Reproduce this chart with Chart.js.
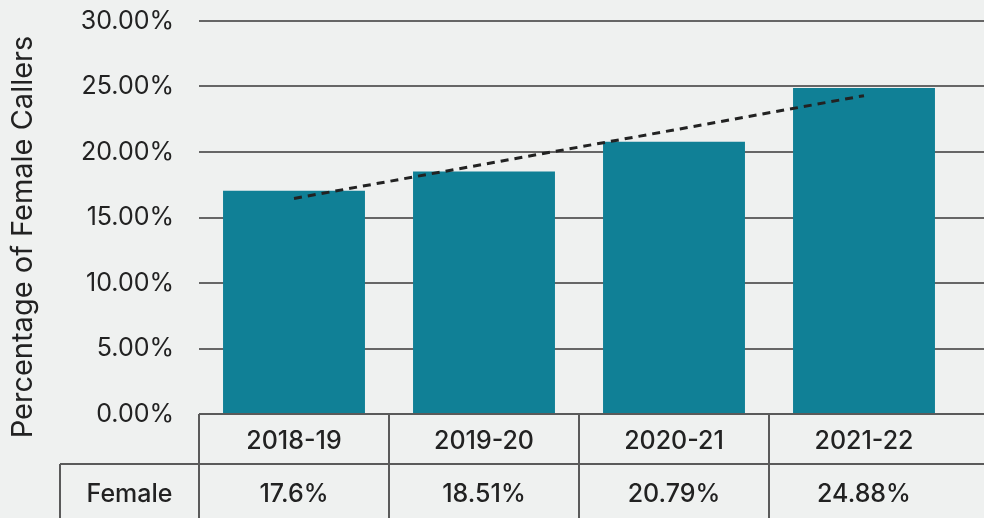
<!DOCTYPE html>
<html>
<head>
<meta charset="utf-8">
<script src="https://cdn.jsdelivr.net/npm/chart.js@4.4.1/dist/chart.umd.min.js"></script>
<style>
  html, body { margin: 0; padding: 0; background: #eff1f0; overflow: hidden; }
  #wrap { width: 984px; height: 518px; position: relative; }
</style>
</head>
<body>
<div id="wrap"><canvas id="chart" width="984" height="518"></canvas></div>
<script>
// data
const years = ['2018-19', '2019-20', '2020-21', '2021-22'];
const femaleShare = [17.05, 18.51, 20.79, 24.88];
const femaleLabels = ['17.6%', '18.51%', '20.79%', '24.88%'];
const trendEnds = [16.45, null, null, 24.3];
const rowLabel = 'Female';
const yTitle = 'Percentage of Female Callers';

const FONT = 'Inter, "Open Sans", sans-serif';
const TEXT = '#222222';
const LINE = '#5a5a5a';

// extends the gridlines to the right edge and draws the data table under the axis
const tablePlugin = {
  id: 'dataTable',
  beforeDatasetsDraw(chart) {
    const { ctx, chartArea, scales } = chart;
    ctx.save();
    ctx.strokeStyle = '#666666';
    ctx.lineWidth = 2;
    scales.y.ticks.forEach(t => {
      const y = Math.round(scales.y.getPixelForValue(t.value));
      ctx.beginPath();
      ctx.moveTo(chartArea.right, y);
      ctx.lineTo(chart.width, y);
      ctx.stroke();
    });
    ctx.restore();
  },
  afterDraw(chart) {
    const { ctx, chartArea, scales } = chart;
    const x = scales.x;
    const top = chartArea.bottom;
    const mid = top + 50;
    const bottom = chart.height;
    const colW = x.getPixelForValue(1) - x.getPixelForValue(0);
    const left = chartArea.left;
    const labelLeft = 60;

    ctx.save();
    ctx.strokeStyle = LINE;
    ctx.lineWidth = 2;
    ctx.beginPath();
    ctx.moveTo(left, top); ctx.lineTo(chart.width, top);
    ctx.moveTo(labelLeft, mid); ctx.lineTo(chart.width, mid);
    ctx.moveTo(labelLeft, mid); ctx.lineTo(labelLeft, bottom);
    years.forEach((_, i) => {
      const bx = Math.round(x.getPixelForValue(i) - colW / 2);
      ctx.moveTo(bx, top); ctx.lineTo(bx, bottom);
    });
    ctx.stroke();

    ctx.fillStyle = TEXT;
    ctx.font = '500 25px ' + FONT;
    ctx.textAlign = 'center';
    ctx.textBaseline = 'middle';
    years.forEach((yr, i) => {
      const cx = x.getPixelForValue(i);
      ctx.fillText(yr, cx, (top + mid) / 2 + 2);
      ctx.fillText(femaleLabels[i], cx, (mid + bottom) / 2 + 3);
    });
    ctx.fillText(rowLabel, (labelLeft + left) / 2, (mid + bottom) / 2 + 3);

    // axis title
    ctx.font = '29px ' + FONT;
    ctx.translate(23, 237);
    ctx.rotate(-Math.PI / 2);
    ctx.fillText(yTitle, 0, 0);
    ctx.restore();
  }
};

new Chart(document.getElementById('chart'), {
  type: 'bar',
  data: {
    labels: years,
    datasets: [
      {
        type: 'line',
        data: trendEnds,
        spanGaps: true,
        borderColor: '#222222',
        borderWidth: 3,
        borderDash: [8, 6],
        pointRadius: 0,
        fill: false,
        order: 0
      },
      {
        data: femaleShare,
        backgroundColor: '#108096',
        categoryPercentage: 1,
        barPercentage: 0.747,
        order: 1
      }
    ]
  },
  options: {
    responsive: false,
    animation: false,
    layout: { autoPadding: false, padding: { top: 21, right: 25, bottom: 104, left: 0 } },
    plugins: {
      legend: { display: false },
      tooltip: { enabled: false }
    },
    scales: {
      x: {
        display: false
      },
      y: {
        min: 0,
        max: 30,
        afterFit(scale) { scale.width = 199; scale.paddingTop = 0; scale.paddingBottom = 0; },
        border: { display: false },
        grid: { color: '#666666', lineWidth: 2, drawTicks: false },
        ticks: {
          stepSize: 5,
          padding: 25,
          color: TEXT,
          font: { family: FONT, size: 25 },
          callback: v => v.toFixed(2) + '%'
        }
      }
    }
  },
  plugins: [tablePlugin]
});
</script>
</body>
</html>
